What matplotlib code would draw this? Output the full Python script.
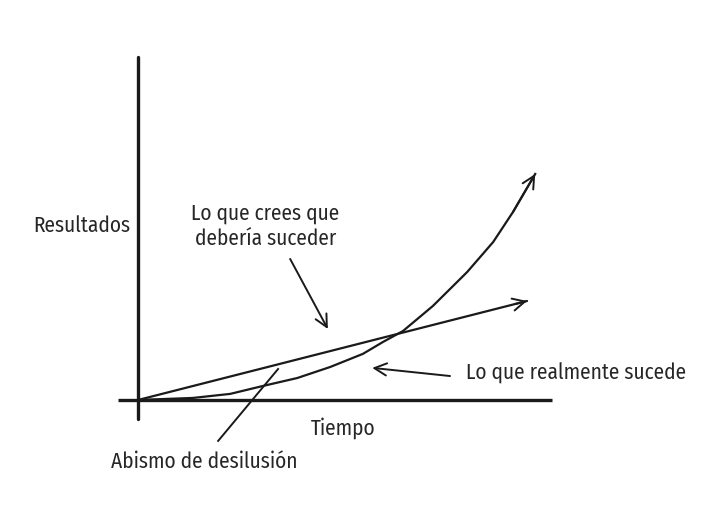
import matplotlib.pyplot as plt

# data in "tiempo" / "resultados" units
expected_x = [0.0, 10.0]
expected_y = [0.0, 4.38]

actual_x = [0.0, 1.41, 2.37, 3.21, 4.09, 4.94, 5.78, 6.30, 6.81, 7.58, 8.46, 9.13, 9.64, 10.21]
actual_y = [0.0, 0.09, 0.27, 0.62, 0.97, 1.46, 2.04, 2.57, 3.05, 4.16, 5.66, 6.99, 8.32, 10.0]

plt.rcParams['font.family'] = ['Fira Sans Condensed', 'PT Sans Narrow', 'DejaVu Sans']

ink = '#1a1a1a'
txt = '#262626'

fig = plt.figure(figsize=(7.2, 5.1), dpi=100)
ax = fig.add_axes([0, 0, 1, 1])
ax.set_xlim(-3.548, 14.96)
ax.set_ylim(-4.823, 17.74)
ax.axis('off')

# axes drawn by hand
ax.plot([0, 0], [-0.84, 15.18], color=ink, lw=2.4, solid_capstyle='round')
ax.plot([-0.51, 10.64], [0, 0], color=ink, lw=2.4, solid_capstyle='butt')

arrow = dict(arrowstyle='->', color=ink, lw=1.4, mutation_scale=22, shrinkA=0, shrinkB=0)

# expected: straight line
ax.plot(expected_x, expected_y, color=ink, lw=1.6, solid_capstyle='round')
ax.annotate('', xy=(expected_x[-1], expected_y[-1]),
            xytext=(expected_x[-1] - 0.3, expected_y[-1] - 0.3 * expected_y[-1] / expected_x[-1]),
            arrowprops=arrow)

# actual: curve
ax.plot(actual_x, actual_y, color=ink, lw=1.6, solid_joinstyle='round')
ax.annotate('', xy=(actual_x[-1], actual_y[-1]), xytext=(actual_x[-2], actual_y[-2]),
            arrowprops=arrow)

fs = 15
labels = []
labels.append(ax.text(-1.44, 7.74, 'Resultados', ha='center', va='center', fontsize=fs, color=txt))
labels.append(ax.text(3.27, 7.74, 'Lo que crees que\ndebería suceder', ha='center', va='center',
                      fontsize=fs, color=txt, linespacing=1.3))
ax.annotate('', xy=(4.88, 3.14), xytext=(3.91, 6.24), arrowprops=arrow)

ref = ax.text(8.43, 1.24, 'Lo que realmente sucede', ha='left', va='center', fontsize=fs, color=txt)
labels.append(ref)
ax.annotate('', xy=(6.02, 1.42), xytext=(8.02, 1.06), arrowprops=arrow)

labels.append(ax.text(5.27, -1.2, 'Tiempo', ha='center', va='center', fontsize=fs, color=txt))

labels.append(ax.text(1.69, -2.7, 'Abismo de desilusión', ha='center', va='center', fontsize=fs, color=txt))
ax.plot([2.06, 3.60], [-1.81, 1.37], color=ink, lw=1.4)

# size the lettering so that the right-hand label is as wide as in the picture (~220 px)
fig.canvas.draw()
w = ref.get_window_extent().width
for t in labels:
    t.set_fontsize(fs * 220 / w)

fig.savefig('out.png', dpi=100, facecolor='white')
